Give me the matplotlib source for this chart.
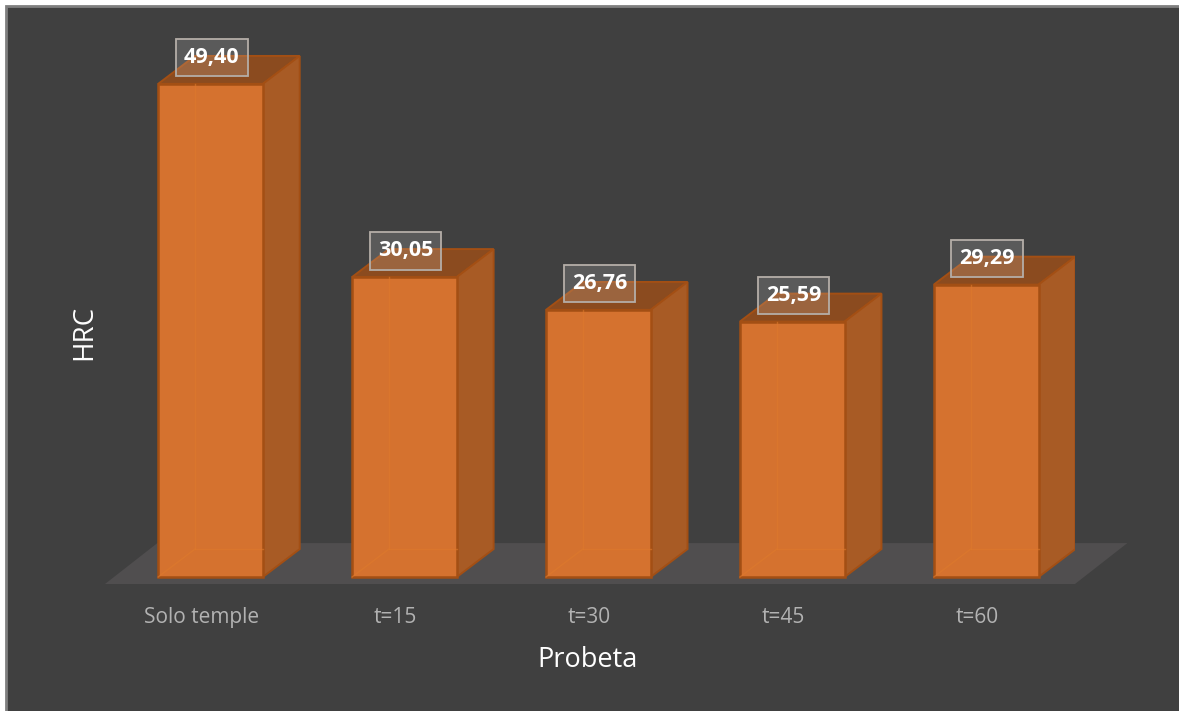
# -*- coding: utf-8 -*-
import matplotlib
matplotlib.use('Agg')
import matplotlib.pyplot as plt
from matplotlib.patches import Polygon, Rectangle
import numpy as np

categories = ['Solo temple', 't=15', 't=30', 't=45', 't=60']
hrc = [49.40, 30.05, 26.76, 25.59, 29.29]
value_labels = ['49,40', '30,05', '26,76', '25,59', '29,29']

W, H = 1179, 711
plt.rcParams['font.family'] = ['Open Sans', 'DejaVu Sans']

# depth of the fake 3d boxes, in data units
width = 0.54
dx = 0.19
dy = 2.8

front = '#d5722f'
side = '#a85b25'
top = '#8b4b1f'
edge = '#a34f14'
ghost = '#de7a2c'
bg = '#404040'

fig = plt.figure(figsize=(W / 100, H / 100), dpi=100, facecolor='white')
fig.add_artist(Rectangle((6 / W, -0.01), 1.0, 1.01 - 6 / H, transform=fig.transFigure,
                         facecolor=bg, edgecolor='#7f7f7f', linewidth=2, zorder=-1))

# axes span the front edge of the floor
ax = fig.add_axes([105 / W, 1 - 584 / H, 970 / W, 564 / H])
ax.patch.set_visible(False)
ax.set_xlim(-0.544, 4.458)
ax.set_ylim(-0.70, 55.8)
for s in ax.spines.values():
    s.set_visible(False)

x0, x1 = ax.get_xlim()
y0 = ax.get_ylim()[0]
ax.add_patch(Polygon([(x0, y0), (x1, y0), (x1 + 0.27, 3.4), (x0 + 0.27, 3.4)],
                     facecolor='#504e4f', edgecolor='none', zorder=1, clip_on=False))

for i, v in enumerate(hrc):
    l = i - width / 2
    r = i + width / 2
    ax.add_patch(Polygon([(l, v), (r, v), (r + dx, v + dy), (l + dx, v + dy)],
                         facecolor=top, edgecolor=edge, linewidth=1.4, zorder=2))
    ax.add_patch(Polygon([(r, 0), (r + dx, dy), (r + dx, v + dy), (r, v)],
                         facecolor=side, edgecolor=edge, linewidth=1.4, zorder=2))
    ax.bar(i, v, width, color=front, edgecolor=edge, linewidth=1.8, zorder=3)
    # back edges showing through the front face
    ax.plot([l + dx, l + dx], [dy, v], color=ghost, linewidth=1, alpha=0.6, zorder=4)
    ax.plot([l + dx, r], [dy, dy], color=ghost, linewidth=1, alpha=0.6, zorder=4)
    ax.plot([l, l + dx], [0, dy], color=ghost, linewidth=1, alpha=0.6, zorder=4)
    ax.text(i + 0.006, v + 2.62, value_labels[i], ha='center', va='center',
            color='white', fontsize=15.5, fontweight='bold', zorder=6,
            bbox=dict(boxstyle='square,pad=0.38', facecolor=(1, 1, 1, 0.14),
                      edgecolor='#b5aea8', linewidth=1.3))

ax.set_yticks([])
ax.set_xticks(np.arange(len(categories)) - 0.045)
ax.set_xticklabels(categories, color='#b2b2b2', fontsize=15)
ax.tick_params(axis='x', length=0, pad=16.5)

ax.set_xlabel('Probeta', color='white', fontsize=19.5)
ax.xaxis.set_label_coords((588 - 105) / 970, -(660 - 584) / 564, transform=ax.transAxes)
ax.xaxis.label.set_va('center')
ax.set_ylabel('HRC', color='white', fontsize=20)
ax.yaxis.set_label_coords((84 - 105) / 970, (584 - 332) / 564, transform=ax.transAxes)
ax.yaxis.label.set_va('center')

fig.savefig('out.png', dpi=100, facecolor=fig.get_facecolor())
